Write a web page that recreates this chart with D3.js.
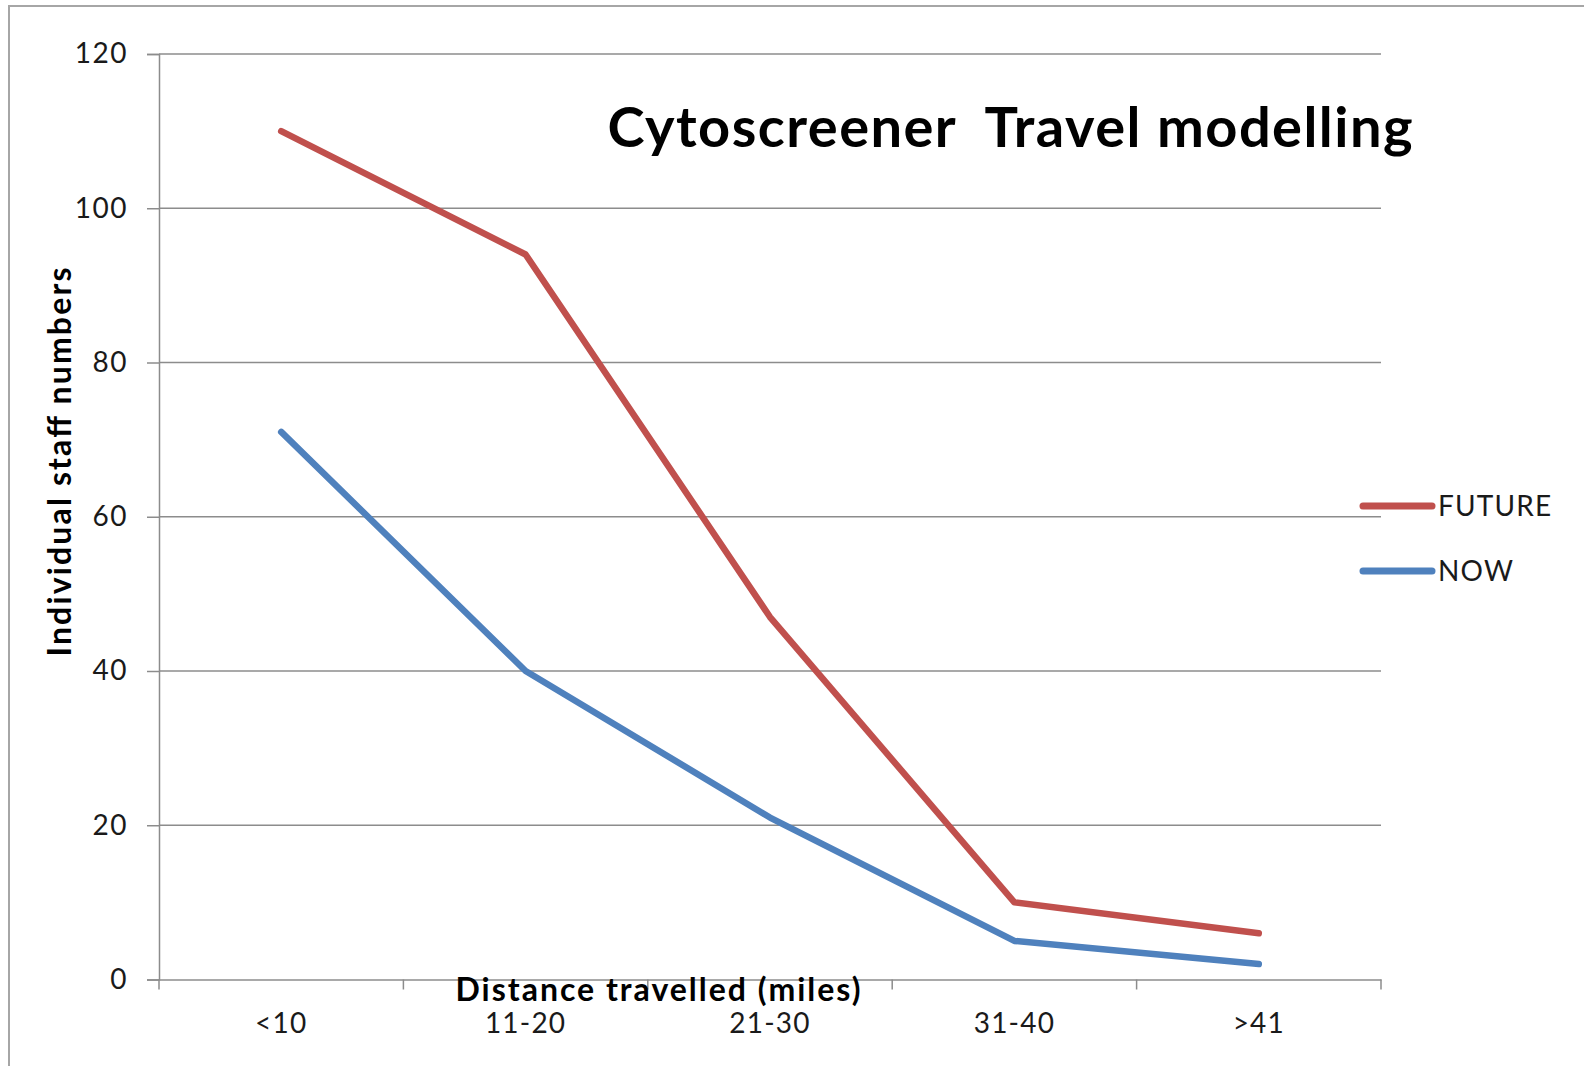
<!DOCTYPE html>
<html>
<head>
<meta charset="utf-8">
<script src="https://cdn.jsdelivr.net/npm/d3@7"></script>
<style>
  html, body { margin: 0; padding: 0; background: #fff; }
  svg { display: block; }
</style>
</head>
<body>
<svg id="chart" width="1584" height="1066"></svg>
<script>
const categories = ["<10", "11-20", "21-30", "31-40", ">41"];
const futureValues = [110, 94, 47, 10, 6];
const nowValues = [71, 40, 21, 5, 2];
const yTicks = [0, 20, 40, 60, 80, 100, 120];
const seriesNames = ["FUTURE", "NOW"];
const seriesColors = ["#C0504D", "#4F81BD"];

const svg = d3.select("#chart");
const W = 1584, H = 1066;
const margin = { left: 159, right: W - 1381, top: 54, bottom: H - 979.5 };

// outer frame
svg.append("rect")
  .attr("x", 9).attr("y", 6)
  .attr("width", W + 20).attr("height", H + 20)
  .attr("fill", "none").attr("stroke", "#a6a6a6").attr("stroke-width", 2);

const x = d3.scaleBand().domain(categories)
  .range([margin.left, W - margin.right]).paddingInner(0).paddingOuter(0);
const y = d3.scaleLinear().domain([0, 120]).range([H - margin.bottom, margin.top]);

const font = "Lato, 'Open Sans', sans-serif";

// gridlines
svg.append("g").selectAll("line").data(yTicks.filter(d => d > 0)).join("line")
  .attr("x1", margin.left).attr("x2", W - margin.right)
  .attr("y1", d => y(d)).attr("y2", d => y(d))
  .attr("stroke", "#8c8c8c").attr("stroke-width", 1.5);

// y axis
const yAxis = svg.append("g").attr("transform", `translate(${margin.left},0)`)
  .call(d3.axisLeft(y).tickValues(yTicks).tickSize(12).tickPadding(19));
yAxis.select(".domain").attr("stroke", "#8c8c8c").attr("stroke-width", 1.5);
yAxis.selectAll(".tick line").attr("stroke", "#8c8c8c").attr("stroke-width", 1.5);
yAxis.selectAll("text").attr("font-family", font).attr("font-size", 28)
  .attr("letter-spacing", 1.5).attr("fill", "#1a1a1a");

// x axis
const xAxis = svg.append("g").attr("transform", `translate(0,${y(0)})`)
  .call(d3.axisBottom(x).tickSize(0).tickPadding(34));
xAxis.select(".domain").attr("stroke", "#8c8c8c").attr("stroke-width", 1.5);
xAxis.selectAll("text").attr("font-family", font).attr("font-size", 28)
  .attr("letter-spacing", 1.2).attr("fill", "#1a1a1a");
// category boundary ticks
const bounds = categories.map(c => x(c)).concat([x(categories[categories.length - 1]) + x.bandwidth()]);
svg.append("g").selectAll("line").data(bounds).join("line")
  .attr("x1", d => d).attr("x2", d => d)
  .attr("y1", y(0)).attr("y2", y(0) + 10)
  .attr("stroke", "#8c8c8c").attr("stroke-width", 1.5);

// lines
const line = d3.line().x((d, i) => x(categories[i]) + x.bandwidth() / 2).y(d => y(d));
[futureValues, nowValues].forEach((vals, k) => {
  svg.append("path").datum(vals)
    .attr("d", line)
    .attr("fill", "none")
    .attr("stroke", seriesColors[k])
    .attr("stroke-width", 6.5)
    .attr("stroke-linecap", "round")
    .attr("stroke-linejoin", "round");
});

// title
svg.append("text").attr("x", 1010).attr("y", 147)
  .attr("text-anchor", "middle")
  .attr("font-family", font).attr("font-weight", "bold").attr("font-size", 56)
  .attr("fill", "#000")
  .attr("textLength", 805).attr("lengthAdjust", "spacing")
  .attr("xml:space", "preserve").style("white-space", "pre")
  .text("Cytoscreener  Travel modelling");

// axis titles
svg.append("text")
  .attr("transform", `translate(71,462) rotate(-90)`)
  .attr("text-anchor", "middle")
  .attr("font-family", font).attr("font-weight", "bold").attr("font-size", 32)
  .attr("fill", "#000")
  .attr("textLength", 389).attr("lengthAdjust", "spacing")
  .text("Individual staff numbers");

svg.append("text").attr("x", 658).attr("y", 1001)
  .attr("text-anchor", "middle")
  .attr("font-family", font).attr("font-weight", "bold").attr("font-size", 32)
  .attr("fill", "#000")
  .attr("textLength", 405).attr("lengthAdjust", "spacing")
  .text("Distance travelled (miles)");

// legend
const legY = [506, 571];
seriesNames.forEach((name, k) => {
  svg.append("line")
    .attr("x1", 1363).attr("x2", 1432)
    .attr("y1", legY[k]).attr("y2", legY[k])
    .attr("stroke", seriesColors[k]).attr("stroke-width", 7)
    .attr("stroke-linecap", "round");
  svg.append("text").attr("x", 1438).attr("y", legY[k])
    .attr("dy", "0.35em")
    .attr("font-family", font).attr("font-size", 28)
    .attr("letter-spacing", 1.2).attr("fill", "#1a1a1a")
    .text(name);
});
</script>
</body>
</html>
